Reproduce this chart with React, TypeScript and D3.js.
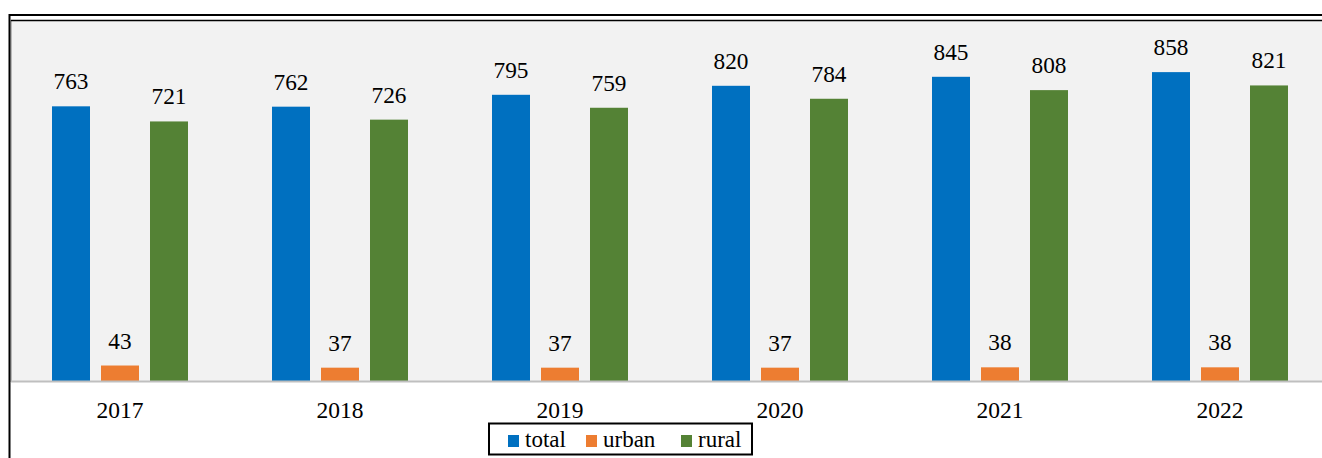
import React from "react";
import * as d3 from "d3";

const years = ["2017", "2018", "2019", "2020", "2021", "2022"];
const total = [763, 762, 795, 820, 845, 858];
const urban = [43, 37, 37, 37, 38, 38];
const rural = [721, 726, 759, 784, 808, 821];
const seriesNames = ["total", "urban", "rural"];
const colors = ["#0070C0", "#ED7D31", "#548235"];

export default function App() {
  const W = 1322, H = 458;
  const x = d3.scaleBand<string>().domain(years).range([10, 1330]).paddingInner(0).paddingOuter(0);
  const y = d3.scaleLinear().domain([0, 1000]).range([381, 21]);
  const series = [total, urban, rural];
  const barW = 38;
  const step = 49;
  const font = "'Liberation Serif', 'Times New Roman', serif";
  const legendItems = [
    { mx: 508, tx: 525 },
    { mx: 586, tx: 603 },
    { mx: 681, tx: 698 },
  ];
  return (
    <svg width={W} height={H} style={{ position: "absolute", left: 0, top: 0, background: "#fff" }} fontFamily={font}>
      <rect x={0} y={0} width={W} height={H} fill="#fff" />
      <rect x={11} y={20.5} width={W} height={361} fill="#F2F2F2" stroke="#7f7f7f" strokeWidth={1} />
      <line x1={9} x2={W} y1={15} y2={15} stroke="#000" strokeWidth={2} />
      <line x1={9.5} x2={9.5} y1={14} y2={H} stroke="#000" strokeWidth={2} />
      <line x1={11} x2={W} y1={20.5} y2={20.5} stroke="#000" strokeWidth={1.5} />
      {years.map((yr, i) => {
        const c = (x(yr) as number) + x.bandwidth() / 2;
        return (
          <g key={yr}>
            {series.map((s, j) => {
              const bx = c + (j - 1) * step - barW / 2;
              const v = s[i];
              return (
                <g key={j}>
                  <rect x={bx} y={y(v)} width={barW} height={y(0) - y(v)} fill={colors[j]} />
                  <text x={bx + barW / 2} y={y(v) - 17} textAnchor="middle" fontSize={23.3} fill="#000">
                    {v}
                  </text>
                </g>
              );
            })}
            <text x={c} y={418} textAnchor="middle" fontSize={23.5} fill="#000">
              {yr}
            </text>
          </g>
        );
      })}
      <line x1={11} x2={W} y1={381.5} y2={381.5} stroke="#BFBFBF" strokeWidth={2} />
      <rect x={489} y={423.5} width={263} height={31} fill="#fff" stroke="#000" strokeWidth={2} />
      {seriesNames.map((n, j) => (
        <g key={n}>
          <rect x={legendItems[j].mx} y={435} width={11} height={12} fill={colors[j]} />
          <text x={legendItems[j].tx} y={447} fontSize={23} fill="#000">
            {n}
          </text>
        </g>
      ))}
    </svg>
  );
}
